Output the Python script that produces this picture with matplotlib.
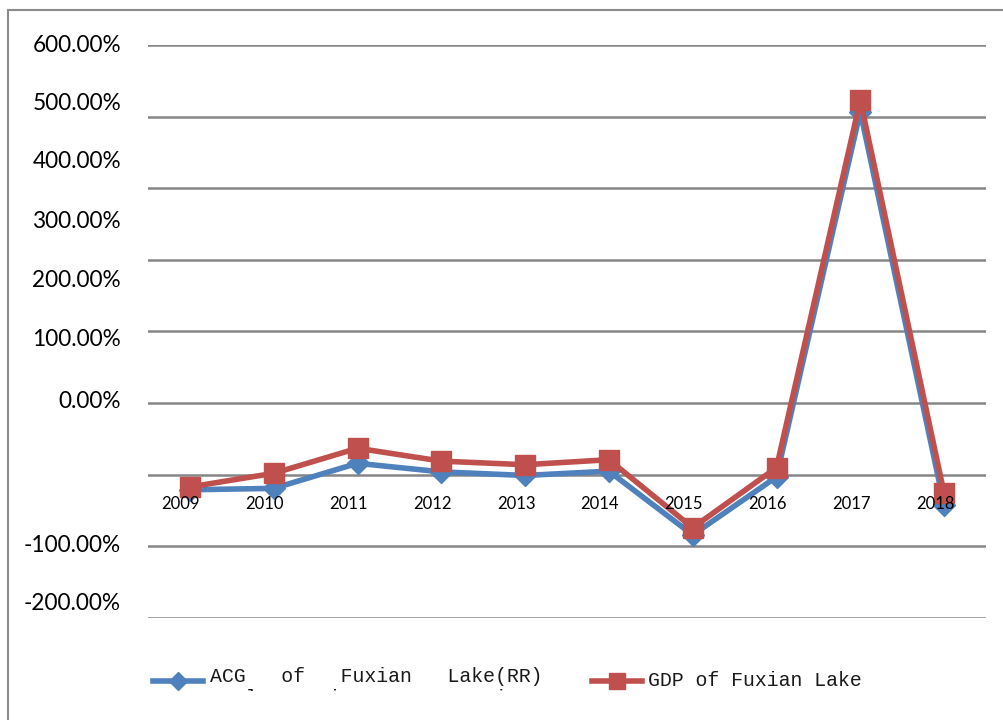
import matplotlib.pyplot as plt
from matplotlib.lines import Line2D
from matplotlib.patches import Rectangle
from matplotlib.transforms import offset_copy

# Datos (en %)
years = ['2009', '2010', '2011', '2012', '2013', '2014', '2015', '2016', '2017', '2018']
acg = [-21, -19, 16, 4, -1, 5, -84, -3, 507, -42]
gdp = [-17, 2, 37, 19, 14, 21, -74, 10, 523, -26]

grid_values = [600, 500, 400, 300, 200, 100, 0, -100, -200]
ytick_labels = ['600.00%', '500.00%', '400.00%', '300.00%', '200.00%',
                '100.00%', '0.00%', '-100.00%', '-200.00%']
# posiciones (px desde arriba) de las etiquetas tal como aparecen
ytick_label_px = [45, 103, 162, 221, 281, 340, 401, 546, 604]

acg_label = 'ACG   of   Fuxian   Lake(RR)'
acg_label2 = 'Agglomeration Concentration'
gdp_label = 'GDP of Fuxian Lake'

blue = '#4F81BD'
red = '#C0504D'
gridc = '#868686'

W, H = 1004, 720
fig = plt.figure(figsize=(W / 100, H / 100), dpi=100)

# marco del grafico
fig.add_artist(Line2D([8 / W, 8 / W], [0, 1 - 10 / H], transform=fig.transFigure,
                      color='#8c8c8c', lw=1.5))
fig.add_artist(Line2D([8 / W, 1], [1 - 10 / H, 1 - 10 / H], transform=fig.transFigure,
                      color='#8c8c8c', lw=1.5))

ax = fig.add_axes([148 / W, 1 - 618 / H, (986 - 148) / W, (618 - 45) / H])
ax.set_xlim(-0.5, len(years) - 0.5)
ax.set_ylim(-200, 600)
for v in grid_values:
    ax.axhline(v, color=gridc, lw=1.8, zorder=1)
for s in ax.spines.values():
    s.set_visible(False)
ax.set_xticks([])
ax.set_yticks([])
ax.patch.set_alpha(0)

x = range(len(years))
ax.plot(x, acg, color=blue, lw=4, marker='D', markersize=11, zorder=3, clip_on=False)
ax.plot(x, gdp, color=red, lw=4, marker='s', markersize=14, zorder=4, clip_on=False)

# etiquetas de años sobre la linea de 0
for i, yr in enumerate(years):
    tr = offset_copy(ax.transData, fig=fig, x=-9, y=-29, units='dots')
    ax.text(i, 0, yr, transform=tr, ha='center', va='center',
            fontsize=12, family='Lato', color='black', zorder=5)

# etiquetas del eje y
for lab, py in zip(ytick_labels, ytick_label_px):
    fig.text(121 / W, 1 - py / H, lab, ha='right', va='center',
             fontsize=16.3, family='Lato', color='black')

# leyenda
ly = 1 - 681 / H
fig.add_artist(Line2D([153 / W, 203 / W], [ly, ly], transform=fig.transFigure,
                      color=blue, lw=4))
fig.add_artist(Line2D([178 / W], [ly], transform=fig.transFigure, color=blue,
                      marker='D', markersize=9, lw=0))
fig.text(210 / W, 1 - 677 / H, acg_label, ha='left', va='center',
         fontsize=14.3, family='Liberation Mono', color='#1a1a1a')
t2 = fig.text(210 / W, 1 - 698 / H, acg_label2, ha='left', va='center',
              fontsize=14.3, family='Liberation Mono', color='#1a1a1a')
clip = Rectangle((0, 1 - 691 / H), 1, 691 / H, transform=fig.transFigure)
t2.set_clip_path(clip)

fig.add_artist(Line2D([592 / W, 642 / W], [ly, ly], transform=fig.transFigure,
                      color=red, lw=4))
fig.add_artist(Line2D([617 / W], [ly], transform=fig.transFigure, color=red,
                      marker='s', markersize=12, lw=0))
fig.text(648 / W, 1 - 680 / H, gdp_label, ha='left', va='center',
         fontsize=14.3, family='Liberation Mono', color='#1a1a1a')

fig.savefig('out.png', dpi=100)
